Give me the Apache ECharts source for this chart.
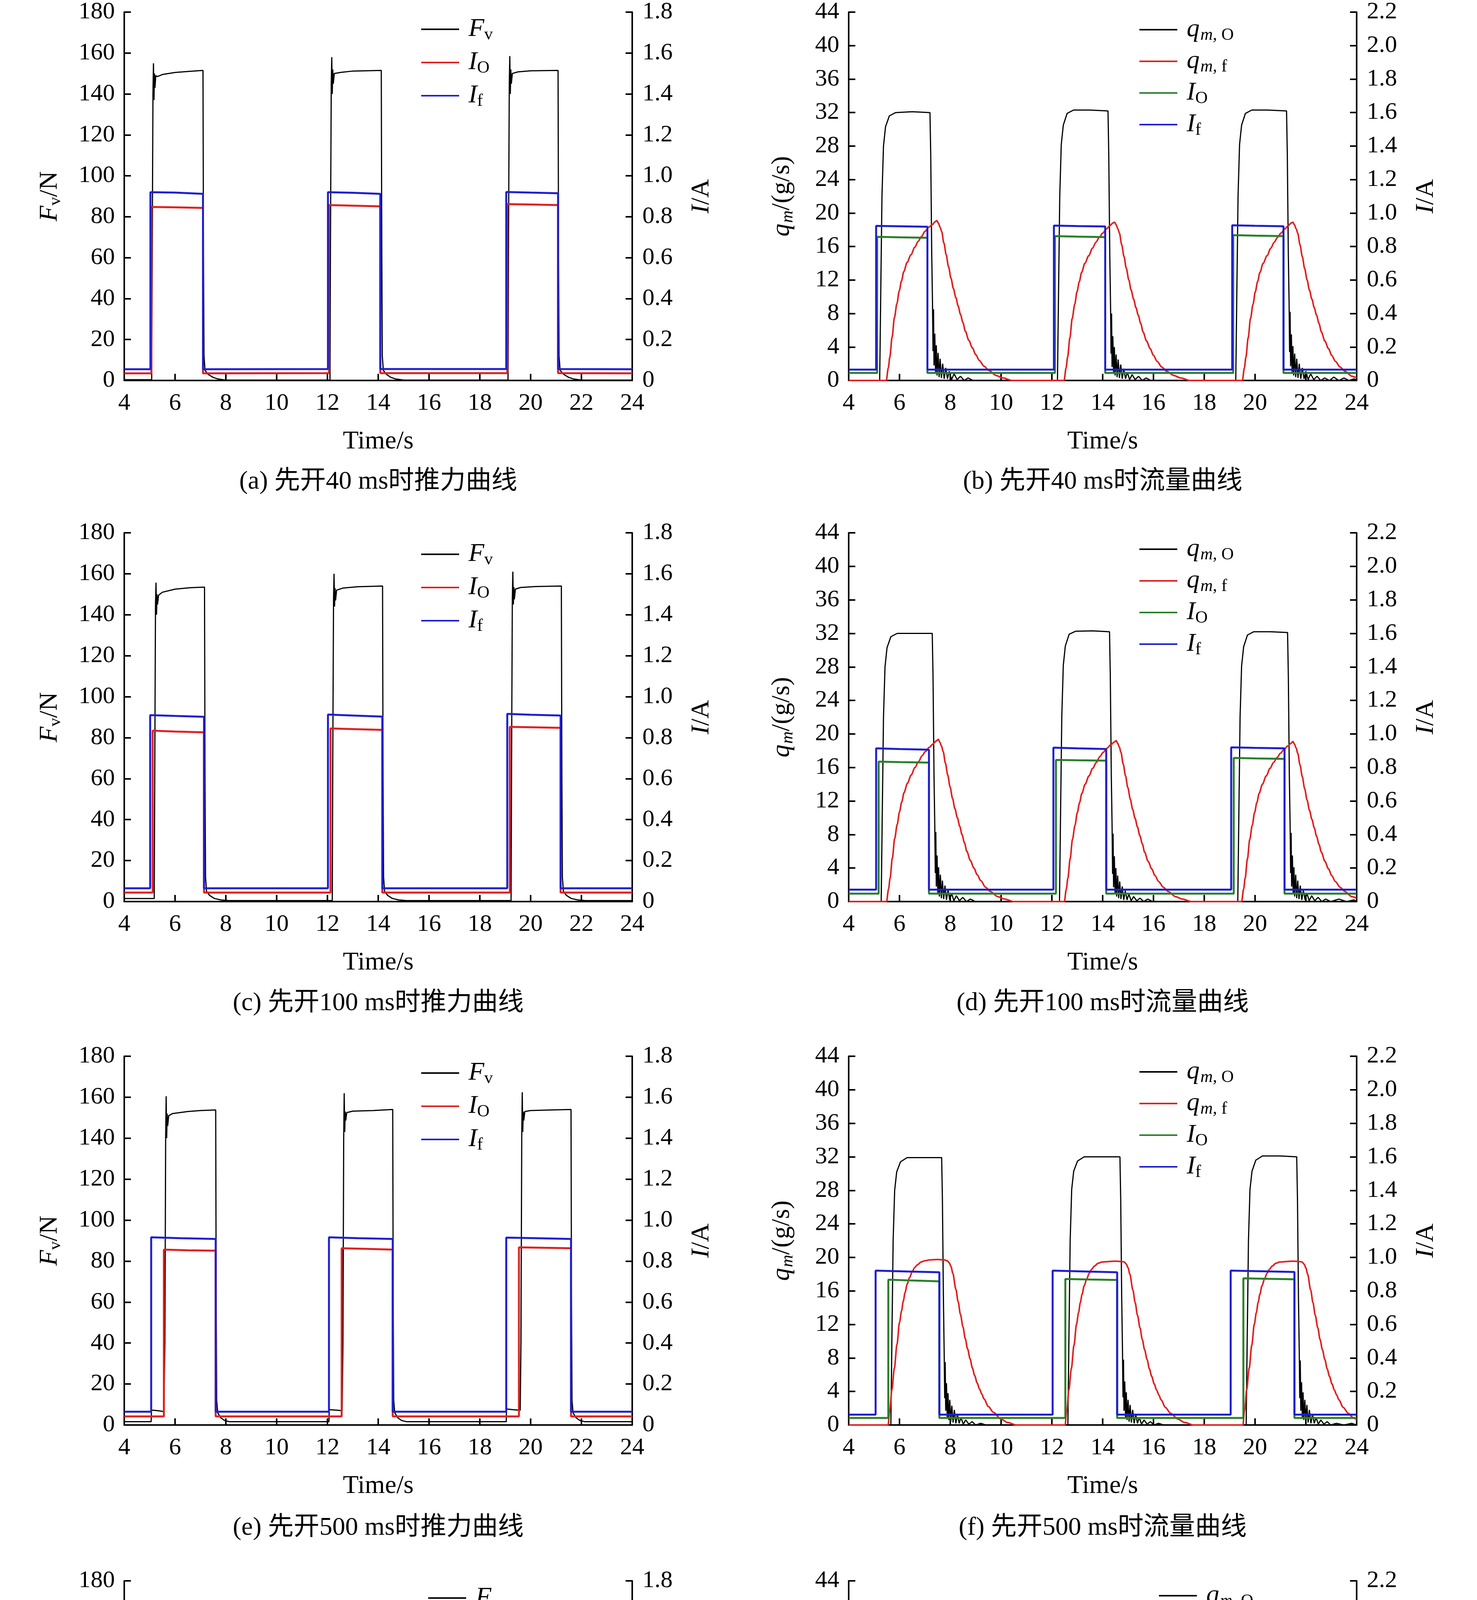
<!DOCTYPE html>
<html><head><meta charset="utf-8">
<script src="https://cdn.jsdelivr.net/npm/echarts@6/dist/echarts.min.js"></script>
<style>html,body{margin:0;padding:0;background:#fff}#c{width:3780px;height:5302px}</style>
</head><body><div id="c"></div>
<script>
// ---------------- DATA ----------------
const xTicks = [4, 6, 8, 10, 12, 14, 16, 18, 20, 22, 24];
const captions = ['(a) 先开40 ms时推力曲线', '(b) 先开40 ms时流量曲线', '(c) 先开100 ms时推力曲线', '(d) 先开100 ms时流量曲线',
  '(e) 先开500 ms时推力曲线', '(f) 先开500 ms时流量曲线', '(g) 先开1 000 ms时推力曲线', '(h) 先开1 000 ms时流量曲线'];
const forceRange = [0, 180, 20];
const flowRange = [0, 44, 4];
const curForceRange = [0, 1.8, 0.2];
const curFlowRange = [0, 2.2, 0.2];

// (a)
const a_Fv = [[4,0.4],[5.08,0.4],[5.10,60],[5.13,140],[5.15,155],[5.17,137],[5.19,150],[5.21,143],[5.24,149],[5.3,148.5],[5.5,149.5],[6,150.5],[6.5,151],[7.10,151.5],[7.12,60],[7.14,12],[7.18,5],[7.3,3],[7.5,1.5],[7.7,0.7],[8.0,0.2],[12.10,0.2],[12.12,70],[12.15,145],[12.17,158],[12.19,140],[12.21,152],[12.23,145],[12.27,150],[12.5,150.5],[13,151.2],[14.12,151.5],[14.14,60],[14.16,12],[14.2,5],[14.32,3],[14.5,1.5],[14.7,0.7],[15.0,0.2],[19.11,0.2],[19.13,70],[19.16,145],[19.18,158.5],[19.20,140],[19.22,152],[19.24,145],[19.28,150],[19.5,150.8],[20,151.3],[21.08,151.5],[21.10,60],[21.12,12],[21.16,5],[21.3,3],[21.5,1.5],[21.7,0.7],[22,0.2],[24,0.2]];
const a_IO = [[4,0.035],[5.07,0.035],[5.07,0.848],[6.0,0.846],[7.10,0.843],[7.10,0.035],[12.06,0.036],[12.06,0.857],[13.0,0.854],[14.08,0.851],[14.08,0.036],[19.08,0.036],[19.08,0.862],[20.0,0.860],[21.08,0.857],[21.08,0.036],[24,0.035]];
const a_If = [[4,0.055],[5.03,0.055],[5.03,0.92],[6.0,0.918],[7.10,0.912],[7.10,0.055],[12.02,0.056],[12.02,0.92],[13.0,0.917],[14.08,0.912],[14.08,0.056],[19.04,0.056],[19.04,0.921],[20.0,0.918],[21.08,0.915],[21.08,0.056],[24,0.055]];

// (b)
const b_qO = [[4,0],[5.22,0],[5.26,10],[5.31,22],[5.37,28],[5.45,30.3],[5.6,31.6],[5.85,32.0],[6.5,32.1],[7.20,32.0],[7.23,27],[7.27,15],[7.30,9.2],[7.32,3.5],[7.34,8.5],[7.36,1.8],[7.39,5.6],[7.42,1.0],[7.45,4.2],[7.48,0.6],[7.52,3.3],[7.56,0.4],[7.60,2.6],[7.65,0.3],[7.70,2.0],[7.76,0.2],[7.82,1.5],[7.89,0.2],[7.96,1.1],[8.05,0.1],[8.15,0.8],[8.27,0.1],[8.4,0.5],[8.55,0],[8.7,0.3],[8.9,0],
  [12.22,0],[12.26,10],[12.31,22],[12.37,28.2],[12.45,30.5],[12.6,31.9],[12.85,32.3],[13.5,32.3],[14.21,32.2],[14.24,27],[14.28,15],[14.31,9],[14.33,3.2],[14.35,8],[14.37,1.6],[14.40,5.3],[14.43,0.9],[14.46,4.0],[14.49,0.6],[14.53,3.1],[14.57,0.4],[14.61,2.5],[14.66,0.3],[14.71,1.9],[14.77,0.2],[14.83,1.4],[14.90,0.2],[14.97,1.0],[15.06,0.1],[15.16,0.7],[15.28,0.1],[15.41,0.5],[15.56,0],[15.71,0.3],[15.9,0],
  [19.24,0],[19.28,10],[19.33,22],[19.39,28.2],[19.47,30.5],[19.62,31.9],[19.87,32.3],[20.5,32.3],[21.24,32.2],[21.27,27],[21.31,15],[21.34,9.3],[21.36,3.4],[21.38,8.2],[21.40,1.7],[21.43,5.5],[21.46,1.0],[21.49,4.1],[21.52,0.6],[21.56,3.2],[21.60,0.4],[21.64,2.6],[21.69,0.3],[21.74,2.0],[21.80,0.2],[21.86,1.5],[21.93,0.2],[22.0,1.1],[22.09,0.1],[22.19,0.8],[22.31,0.1],[22.44,0.5],[22.59,0],[22.74,0.3],[22.93,0],[23.1,0.4],[23.3,0],[23.5,0.3],[23.7,0],[23.9,0.2],[24,0]];
const b_qf = [[4,0],[5.48,0],[5.56,1.5],[5.62,2.8],[5.71,5.2],[5.80,7.5],[5.90,9.2],[5.99,10.7],[6.08,11.9],[6.17,13.0],[6.30,14.1],[6.45,15.0],[6.60,15.9],[6.73,16.6],[6.87,17.2],[7.0,17.8],[7.15,18.3],[7.29,18.6],[7.40,18.95],[7.47,19.1],[7.53,18.8],[7.60,18.3],[7.66,17.8],[7.75,16.4],[7.84,15.0],[7.93,13.6],[8.03,12.2],[8.12,11.0],[8.22,9.9],[8.31,8.9],[8.40,7.9],[8.50,6.9],[8.59,5.9],[8.73,4.8],[8.87,3.9],[9.0,3.1],[9.14,2.4],[9.33,1.7],[9.52,1.2],[9.8,0.6],[10.07,0.3],[10.44,0],
  [12.48,0],[12.56,1.5],[12.62,2.8],[12.71,5.1],[12.80,7.4],[12.90,9.1],[12.99,10.6],[13.08,11.8],[13.17,12.9],[13.30,14.0],[13.45,14.9],[13.60,15.8],[13.73,16.5],[13.87,17.1],[14.0,17.6],[14.15,18.1],[14.29,18.5],[14.40,18.8],[14.47,18.9],[14.53,18.6],[14.60,18.1],[14.66,17.6],[14.75,16.2],[14.84,14.8],[14.93,13.4],[15.03,12.0],[15.12,10.8],[15.22,9.7],[15.31,8.7],[15.40,7.8],[15.50,6.8],[15.59,5.8],[15.73,4.7],[15.87,3.8],[16.0,3.0],[16.14,2.3],[16.33,1.6],[16.52,1.1],[16.8,0.6],[17.07,0.3],[17.44,0],
  [19.50,0],[19.58,1.5],[19.64,2.8],[19.73,5.1],[19.82,7.4],[19.92,9.1],[20.01,10.6],[20.10,11.8],[20.19,12.9],[20.32,14.0],[20.47,14.9],[20.62,15.8],[20.75,16.5],[20.89,17.1],[21.02,17.6],[21.17,18.1],[21.31,18.5],[21.42,18.8],[21.49,18.9],[21.55,18.6],[21.62,18.1],[21.68,17.6],[21.77,16.2],[21.86,14.8],[21.95,13.4],[22.05,12.0],[22.14,10.8],[22.24,9.7],[22.33,8.7],[22.42,7.8],[22.52,6.8],[22.61,5.8],[22.75,4.7],[22.89,3.8],[23.02,3.0],[23.16,2.3],[23.35,1.6],[23.54,1.1],[23.82,0.5],[24,0.3]];
const b_IO = [[4,0.045],[5.12,0.045],[5.12,0.858],[6.0,0.855],[7.10,0.852],[7.10,0.045],[12.12,0.045],[12.12,0.862],[13.0,0.859],[14.10,0.856],[14.10,0.045],[19.14,0.045],[19.14,0.868],[20.0,0.865],[21.12,0.862],[21.12,0.045],[24,0.045]];
const b_If = [[4,0.065],[5.08,0.065],[5.08,0.923],[6.0,0.921],[7.10,0.918],[7.10,0.065],[12.08,0.065],[12.08,0.925],[13.0,0.922],[14.10,0.920],[14.10,0.065],[19.10,0.065],[19.10,0.927],[20.0,0.924],[21.12,0.921],[21.12,0.065],[24,0.065]];

// (c)
const c_Fv = [[4,1.5],[5.18,1.5],[5.20,60],[5.23,145],[5.25,155.7],[5.27,140],[5.29,150],[5.31,145],[5.35,149.5],[5.5,151],[6,152.5],[6.6,153.2],[7.16,153.5],[7.18,60],[7.20,12],[7.24,5],[7.36,3],[7.55,1.5],[7.8,0.8],[8.1,0.5],[12.19,0.5],[12.21,70],[12.24,148],[12.26,160],[12.28,144],[12.30,153],[12.32,147],[12.36,152],[12.6,153],[13.2,153.7],[14.17,154],[14.19,60],[14.21,12],[14.25,5],[14.37,3],[14.56,1.5],[14.8,0.8],[15.1,0.5],[19.23,0.5],[19.25,70],[19.28,148],[19.30,161],[19.32,145],[19.34,153.5],[19.36,147.5],[19.40,152.5],[19.6,153.3],[20.2,153.8],[21.21,154],[21.23,60],[21.25,12],[21.29,5],[21.41,3],[21.6,1.5],[21.85,0.8],[22.15,0.5],[24,0.5]];
const c_IO = [[4,0.044],[5.12,0.044],[5.12,0.834],[6.0,0.830],[7.14,0.826],[7.14,0.044],[12.12,0.044],[12.12,0.845],[13.0,0.842],[14.16,0.838],[14.16,0.044],[19.18,0.044],[19.18,0.853],[20.0,0.851],[21.18,0.848],[21.18,0.044],[24,0.044]];
const c_If = [[4,0.065],[5.02,0.065],[5.02,0.910],[6.0,0.906],[7.14,0.902],[7.14,0.065],[12.02,0.065],[12.02,0.913],[13.0,0.908],[14.16,0.903],[14.16,0.065],[19.08,0.065],[19.08,0.916],[20.0,0.912],[21.18,0.908],[21.18,0.065],[24,0.065]];

// (d)
const d_qO = [[4,0],[5.28,0],[5.32,10],[5.37,22],[5.43,28],[5.51,30.3],[5.66,31.6],[5.91,32.0],[6.6,32.0],[7.29,32.0],[7.32,27],[7.36,15],[7.39,9.0],[7.41,3.4],[7.43,8.3],[7.45,1.8],[7.48,5.5],[7.51,1.0],[7.54,4.1],[7.57,0.6],[7.61,3.2],[7.65,0.4],[7.69,2.5],[7.74,0.3],[7.79,1.9],[7.85,0.2],[7.91,1.4],[7.98,0.2],[8.05,1.0],[8.14,0.1],[8.24,0.7],[8.36,0.1],[8.49,0.5],[8.64,0],[8.79,0.3],[8.99,0],
  [12.30,0],[12.34,10],[12.39,22],[12.45,28.2],[12.53,30.5],[12.68,31.9],[12.93,32.25],[13.6,32.3],[14.27,32.2],[14.30,27],[14.34,15],[14.37,9.2],[14.39,3.3],[14.41,8.1],[14.43,1.7],[14.46,5.4],[14.49,0.9],[14.52,4.0],[14.55,0.6],[14.59,3.1],[14.63,0.4],[14.67,2.4],[14.72,0.3],[14.77,1.8],[14.83,0.2],[14.89,1.3],[14.96,0.2],[15.03,0.9],[15.12,0.1],[15.22,0.6],[15.34,0.1],[15.47,0.4],[15.62,0],[15.77,0.3],[15.97,0],
  [19.32,0],[19.36,10],[19.41,22],[19.47,28.1],[19.55,30.4],[19.70,31.8],[19.95,32.2],[20.6,32.2],[21.28,32.1],[21.31,27],[21.35,15],[21.38,9.1],[21.40,3.4],[21.42,8.2],[21.44,1.8],[21.47,5.5],[21.50,1.0],[21.53,4.1],[21.56,0.6],[21.60,3.2],[21.64,0.4],[21.68,2.5],[21.73,0.3],[21.78,1.9],[21.84,0.2],[21.90,1.4],[21.97,0.2],[22.04,1.0],[22.13,0.1],[22.23,0.7],[22.35,0.1],[22.48,0.5],[22.63,0],[22.78,0.3],[22.98,0],[23.3,0.3],[23.6,0],[23.9,0.2],[24,0]];
const d_qf = [[4,0],[5.49,0],[5.57,1.5],[5.63,2.8],[5.72,5.2],[5.81,7.5],[5.91,9.2],[6.0,10.7],[6.09,11.9],[6.18,13.0],[6.31,14.1],[6.46,15.1],[6.61,16.0],[6.75,16.7],[6.89,17.4],[7.02,17.9],[7.17,18.4],[7.32,18.8],[7.44,19.15],[7.53,19.35],[7.59,19.0],[7.66,18.5],[7.72,17.9],[7.81,16.5],[7.90,15.1],[7.99,13.7],[8.09,12.3],[8.18,11.1],[8.28,10.0],[8.37,9.0],[8.46,8.0],[8.56,7.0],[8.65,6.0],[8.79,4.9],[8.93,4.0],[9.06,3.2],[9.2,2.5],[9.39,1.7],[9.58,1.2],[9.86,0.6],[10.13,0.3],[10.5,0],
  [12.49,0],[12.57,1.5],[12.63,2.8],[12.72,5.1],[12.81,7.4],[12.91,9.1],[13.0,10.6],[13.09,11.8],[13.18,12.9],[13.31,14.0],[13.46,15.0],[13.61,15.9],[13.75,16.6],[13.89,17.3],[14.02,17.8],[14.17,18.3],[14.32,18.7],[14.44,19.0],[14.53,19.2],[14.59,18.9],[14.66,18.4],[14.72,17.8],[14.81,16.4],[14.90,15.0],[14.99,13.6],[15.09,12.2],[15.18,11.0],[15.28,9.9],[15.37,8.9],[15.46,7.9],[15.56,6.9],[15.65,5.9],[15.79,4.8],[15.93,3.9],[16.06,3.1],[16.2,2.4],[16.39,1.7],[16.58,1.2],[16.86,0.6],[17.13,0.3],[17.5,0],
  [19.47,0],[19.55,1.5],[19.61,2.8],[19.70,5.1],[19.79,7.4],[19.89,9.1],[19.98,10.6],[20.07,11.8],[20.16,12.9],[20.29,14.0],[20.44,15.0],[20.59,15.9],[20.73,16.6],[20.87,17.2],[21.0,17.7],[21.15,18.2],[21.30,18.6],[21.42,18.9],[21.49,19.1],[21.55,18.8],[21.62,18.3],[21.68,17.7],[21.77,16.3],[21.86,14.9],[21.95,13.5],[22.05,12.1],[22.14,10.9],[22.24,9.8],[22.33,8.8],[22.42,7.8],[22.52,6.8],[22.61,5.9],[22.75,4.8],[22.89,3.9],[23.02,3.1],[23.16,2.4],[23.35,1.7],[23.54,1.2],[23.8,0.6],[24,0.4]];
const d_IO = [[4,0.047],[5.18,0.047],[5.18,0.835],[6.0,0.832],[7.16,0.829],[7.16,0.047],[12.16,0.047],[12.16,0.845],[13.0,0.843],[14.14,0.841],[14.14,0.047],[19.16,0.047],[19.16,0.857],[20.0,0.854],[21.16,0.851],[21.16,0.047],[24,0.047]];
const d_If = [[4,0.071],[5.08,0.071],[5.08,0.914],[6.0,0.910],[7.16,0.906],[7.16,0.071],[12.06,0.071],[12.06,0.918],[13.0,0.914],[14.14,0.910],[14.14,0.071],[19.06,0.071],[19.06,0.920],[20.0,0.917],[21.16,0.914],[21.16,0.071],[24,0.071]];

// (e)
const e_Fv = [[4,1.6],[5.06,1.6],[5.07,7.3],[5.3,7.0],[5.56,6.6],[5.60,40],[5.63,140],[5.65,160.5],[5.67,140],[5.69,152],[5.71,146],[5.75,151],[5.9,152],[6.5,153],[7.0,153.5],[7.60,153.8],[7.62,60],[7.64,12],[7.68,6],[7.8,3.5],[7.95,2.2],[8.15,1.6],[12.06,1.6],[12.07,7.5],[12.3,7.3],[12.58,7.0],[12.61,40],[12.64,140],[12.66,162],[12.68,143],[12.70,153],[12.72,148.6],[12.76,152.5],[13,153.2],[13.8,153.5],[14.57,154],[14.59,60],[14.61,12],[14.65,6],[14.77,3.5],[14.92,2.2],[15.12,1.6],[19.04,1.6],[19.05,7.8],[19.3,7.5],[19.59,7.2],[19.62,40],[19.65,140],[19.67,162.4],[19.69,143],[19.71,153],[19.73,148.6],[19.77,153],[20,153.5],[20.8,153.8],[21.59,154],[21.61,60],[21.63,12],[21.67,6],[21.79,3.5],[21.94,2.2],[22.14,1.6],[24,1.6]];
const e_IO = [[4,0.042],[5.56,0.042],[5.56,0.856],[6.5,0.853],[7.60,0.851],[7.60,0.042],[12.56,0.042],[12.56,0.863],[13.5,0.860],[14.57,0.856],[14.57,0.042],[19.54,0.042],[19.54,0.867],[20.5,0.865],[21.59,0.863],[21.59,0.042],[24,0.042]];
const e_If = [[4,0.065],[5.06,0.065],[5.06,0.916],[6.2,0.912],[7.60,0.908],[7.60,0.065],[12.06,0.065],[12.06,0.916],[13.2,0.912],[14.57,0.908],[14.57,0.065],[19.04,0.065],[19.04,0.915],[20.2,0.912],[21.59,0.908],[21.59,0.065],[24,0.065]];

// (f)
const f_qO = [[4,0],[5.66,0],[5.70,10],[5.75,22],[5.81,28],[5.89,30.2],[6.04,31.4],[6.3,31.9],[7.0,31.9],[7.66,31.9],[7.69,27],[7.73,15],[7.76,8.5],[7.78,3.2],[7.80,7.5],[7.82,1.7],[7.85,5.0],[7.88,0.9],[7.91,3.8],[7.94,0.6],[7.98,3.0],[8.02,0.4],[8.06,2.3],[8.11,0.3],[8.16,1.8],[8.22,0.2],[8.28,1.3],[8.35,0.2],[8.42,0.9],[8.51,0.1],[8.61,0.6],[8.73,0.1],[8.86,0.4],[9.0,0],[9.2,0.2],[9.4,0],
  [12.63,0],[12.67,10],[12.72,22],[12.78,28.1],[12.86,30.3],[13.01,31.5],[13.27,32.0],[14.0,32.0],[14.68,32.0],[14.71,27],[14.75,15],[14.78,9.0],[14.80,3.3],[14.82,7.8],[14.84,1.7],[14.87,5.2],[14.90,0.9],[14.93,3.9],[14.96,0.6],[15.0,3.0],[15.04,0.4],[15.08,2.4],[15.13,0.3],[15.18,1.8],[15.24,0.2],[15.30,1.3],[15.37,0.2],[15.44,0.9],[15.53,0.1],[15.63,0.6],[15.75,0.1],[15.88,0.4],[16.02,0],[16.2,0.2],[16.4,0],
  [19.65,0],[19.69,10],[19.74,22],[19.80,28.1],[19.88,30.3],[20.03,31.6],[20.29,32.1],[21.0,32.1],[21.64,32.0],[21.67,27],[21.71,15],[21.74,8.8],[21.76,3.2],[21.78,7.7],[21.80,1.7],[21.83,5.1],[21.86,0.9],[21.89,3.9],[21.92,0.6],[21.96,3.0],[22.0,0.4],[22.04,2.4],[22.09,0.3],[22.14,1.8],[22.20,0.2],[22.26,1.3],[22.33,0.2],[22.40,0.9],[22.49,0.1],[22.59,0.6],[22.71,0.1],[22.84,0.4],[22.98,0],[23.2,0.2],[23.5,0],[23.8,0.2],[24,0]];
const f_qf = [[4,0],[5.55,0],[5.62,1.8],[5.70,4.2],[5.80,6.8],[5.90,9.6],[6.0,12.2],[6.08,13.6],[6.15,14.8],[6.22,15.8],[6.30,16.8],[6.40,17.6],[6.50,18.3],[6.60,18.8],[6.70,19.1],[6.85,19.45],[7.0,19.6],[7.2,19.7],[7.5,19.75],[7.75,19.7],[7.88,19.6],[7.96,19.35],[8.03,18.9],[8.1,18.1],[8.22,16.2],[8.31,14.7],[8.4,13.2],[8.5,11.7],[8.59,10.3],[8.68,9.1],[8.78,7.9],[8.87,6.8],[8.96,5.9],[9.06,5.0],[9.15,4.3],[9.24,3.7],[9.33,3.1],[9.5,2.2],[9.7,1.5],[10.0,0.7],[10.26,0.3],[10.6,0],
  [12.52,0],[12.59,1.8],[12.67,4.2],[12.77,6.8],[12.87,9.5],[12.97,12.0],[13.05,13.4],[13.12,14.6],[13.19,15.6],[13.27,16.6],[13.37,17.4],[13.47,18.1],[13.57,18.6],[13.67,18.95],[13.82,19.3],[13.97,19.45],[14.2,19.5],[14.5,19.55],[14.75,19.5],[14.85,19.45],[14.93,19.2],[15.0,18.75],[15.07,18.0],[15.19,16.1],[15.28,14.6],[15.37,13.1],[15.47,11.6],[15.56,10.2],[15.65,9.0],[15.75,7.8],[15.84,6.7],[15.93,5.8],[16.03,4.9],[16.12,4.2],[16.21,3.6],[16.3,3.0],[16.47,2.1],[16.67,1.4],[16.97,0.7],[17.23,0.3],[17.57,0],
  [19.52,0],[19.59,1.8],[19.67,4.2],[19.77,6.8],[19.87,9.5],[19.97,12.0],[20.05,13.4],[20.12,14.6],[20.19,15.6],[20.27,16.6],[20.37,17.4],[20.47,18.1],[20.57,18.6],[20.67,18.95],[20.82,19.3],[20.97,19.45],[21.2,19.5],[21.5,19.55],[21.75,19.5],[21.85,19.45],[21.93,19.2],[22.0,18.75],[22.07,18.0],[22.19,16.1],[22.28,14.6],[22.37,13.1],[22.47,11.6],[22.56,10.2],[22.65,9.0],[22.75,7.8],[22.84,6.7],[22.93,5.8],[23.03,4.9],[23.12,4.2],[23.21,3.6],[23.3,3.0],[23.47,2.1],[23.67,1.4],[23.85,0.9],[24,0.6]];
const f_IO = [[4,0.042],[5.56,0.042],[5.56,0.867],[6.5,0.862],[7.57,0.857],[7.57,0.042],[12.53,0.042],[12.53,0.871],[13.5,0.868],[14.57,0.865],[14.57,0.042],[19.54,0.042],[19.54,0.875],[20.5,0.872],[21.55,0.869],[21.55,0.042],[24,0.042]];
const f_If = [[4,0.062],[5.06,0.062],[5.06,0.921],[6.3,0.916],[7.57,0.911],[7.57,0.062],[12.03,0.062],[12.03,0.921],[13.3,0.916],[14.57,0.911],[14.57,0.062],[19.04,0.062],[19.04,0.921],[20.3,0.917],[21.55,0.913],[21.55,0.062],[24,0.062]];

// (g)
const g_Fv = [[4,1.3],[5.06,1.3],[5.08,7.2],[5.3,7.0],[5.7,6.5],[6.1,6.0],[6.13,40],[6.16,140],[6.18,164],[6.20,146],[6.22,152],[6.24,147],[6.28,150],[6.5,150.8],[7,151.4],[7.6,151.9],[8.12,152.2],[8.14,60],[8.16,12],[8.2,6],[8.32,3.3],[8.47,2],[8.65,1.3],[12.08,1.3],[12.10,8.1],[12.4,7.7],[12.8,7.2],[13.12,6.8],[13.15,40],[13.18,140],[13.20,164],[13.22,147],[13.24,153],[13.26,148],[13.30,151],[13.6,152],[14.3,152.7],[15.09,153],[15.11,60],[15.13,12],[15.17,6],[15.29,3.3],[15.44,2],[15.62,1.3],[19.08,1.3],[19.10,8.1],[19.4,7.7],[19.8,7.2],[20.13,6.8],[20.16,40],[20.19,140],[20.21,164],[20.23,146.6],[20.25,153],[20.27,148],[20.31,151.5],[20.6,152.3],[21.3,152.9],[22.10,153.3],[22.12,60],[22.14,12],[22.18,6],[22.3,3.3],[22.45,2],[22.63,1.3],[24,1.3]];
const g_IO = [[4,0.043],[6.08,0.043],[6.08,0.828],[7.0,0.825],[8.12,0.821],[8.12,0.043],[13.10,0.043],[13.10,0.834],[14.0,0.833],[15.09,0.831],[15.09,0.043],[20.10,0.043],[20.10,0.847],[21.0,0.844],[22.10,0.840],[22.10,0.043],[24,0.043]];
const g_If = [[4,0.064],[5.06,0.064],[5.06,0.866],[6.5,0.863],[8.12,0.860],[8.12,0.064],[12.08,0.064],[12.08,0.875],[13.5,0.872],[15.09,0.869],[15.09,0.064],[19.08,0.064],[19.08,0.883],[20.5,0.881],[22.10,0.879],[22.10,0.064],[24,0.064]];

// (h)
const h_qO = [[4,0],[6.16,0],[6.20,10],[6.25,22],[6.31,28],[6.39,30.2],[6.54,31.5],[6.8,31.85],[7.5,31.8],[8.18,31.85],[8.21,27],[8.25,15],[8.28,6],[8.30,2.0],[8.32,4.0],[8.35,1.2],[8.38,2.8],[8.42,0.6],[8.46,2.0],[8.51,0.4],[8.56,1.5],[8.62,0.3],[8.69,1.0],[8.77,0.2],[8.86,0.6],[8.96,0.1],[9.1,0.3],[9.3,0],
  [13.17,0],[13.21,10],[13.26,22],[13.32,28.1],[13.40,30.3],[13.55,31.6],[13.81,32.0],[14.5,32.0],[15.14,32.0],[15.17,27],[15.21,15],[15.24,8],[15.26,2.5],[15.28,4.5],[15.31,1.3],[15.34,3.0],[15.38,0.7],[15.42,2.1],[15.47,0.4],[15.52,1.6],[15.58,0.3],[15.65,1.0],[15.73,0.2],[15.82,0.6],[15.92,0.1],[16.06,0.3],[16.26,0],
  [20.19,0],[20.23,10],[20.28,22],[20.34,28.1],[20.42,30.3],[20.57,31.6],[20.83,32.0],[21.5,32.0],[22.14,32.0],[22.17,27],[22.21,15],[22.24,7],[22.26,2.2],[22.28,4.2],[22.31,1.2],[22.34,2.9],[22.38,0.7],[22.42,2.0],[22.47,0.4],[22.52,1.5],[22.58,0.3],[22.65,1.0],[22.73,0.2],[22.82,0.6],[22.92,0.1],[23.06,0.3],[23.26,0],[23.6,0.2],[24,0]];
const h_qf = [[4,0],[5.43,0],[5.52,1.6],[5.6,3.5],[5.7,5.5],[5.8,7.5],[5.9,9.5],[5.99,11.4],[6.06,13.2],[6.13,15.0],[6.2,16.8],[6.27,18.4],[6.34,19.6],[6.4,20.6],[6.47,21.5],[6.54,22.3],[6.6,22.8],[6.66,23.15],[6.73,23.3],[6.79,23.2],[6.87,22.9],[6.95,22.5],[7.05,22.1],[7.2,21.5],[7.35,20.9],[7.47,20.5],[7.6,20.2],[7.75,20.0],[7.9,19.9],[8.1,19.8],[8.3,19.7],[8.42,19.55],[8.5,19.2],[8.57,18.5],[8.65,17.4],[8.72,16.3],[8.8,15.1],[8.88,13.9],[8.97,12.6],[9.05,11.5],[9.14,10.3],[9.23,9.2],[9.32,8.2],[9.42,7.2],[9.51,6.3],[9.6,5.6],[9.7,4.9],[9.8,4.2],[9.89,3.6],[10.0,3.0],[10.12,2.4],[10.25,1.8],[10.38,1.3],[10.55,0.8],[10.72,0.4],[10.9,0.1],[11.1,0],
  [12.41,0],[12.50,1.6],[12.58,3.5],[12.68,5.5],[12.78,7.5],[12.88,9.5],[12.97,11.4],[13.04,13.2],[13.11,15.0],[13.18,16.7],[13.25,18.3],[13.32,19.5],[13.38,20.5],[13.45,21.4],[13.52,22.2],[13.58,22.7],[13.64,23.05],[13.70,23.2],[13.76,23.1],[13.84,22.8],[13.92,22.4],[14.02,22.0],[14.17,21.4],[14.32,20.8],[14.44,20.4],[14.57,20.1],[14.72,19.9],[14.87,19.8],[15.07,19.7],[15.27,19.6],[15.39,19.45],[15.47,19.1],[15.54,18.4],[15.62,17.3],[15.69,16.2],[15.77,15.0],[15.85,13.8],[15.94,12.5],[16.02,11.4],[16.11,10.2],[16.2,9.1],[16.29,8.1],[16.39,7.1],[16.48,6.2],[16.57,5.5],[16.67,4.8],[16.77,4.1],[16.86,3.5],[16.97,2.9],[17.09,2.3],[17.22,1.7],[17.35,1.2],[17.52,0.7],[17.69,0.3],[17.87,0.1],[18.07,0],
  [19.40,0],[19.49,1.6],[19.57,3.5],[19.67,5.5],[19.77,7.5],[19.87,9.5],[19.96,11.4],[20.03,13.2],[20.10,15.0],[20.17,16.7],[20.24,18.3],[20.31,19.5],[20.37,20.5],[20.44,21.4],[20.51,22.2],[20.57,22.7],[20.63,23.05],[20.69,23.2],[20.75,23.1],[20.83,22.8],[20.91,22.4],[21.01,22.0],[21.16,21.4],[21.31,20.8],[21.43,20.4],[21.56,20.1],[21.71,19.9],[21.86,19.8],[22.03,19.7],[22.2,19.6],[22.3,19.45],[22.38,19.1],[22.45,18.4],[22.53,17.3],[22.6,16.2],[22.68,15.0],[22.76,13.8],[22.85,12.5],[22.93,11.4],[23.02,10.2],[23.11,9.1],[23.2,8.1],[23.3,7.0],[23.39,6.0],[23.48,5.1],[23.58,4.2],[23.68,3.3],[23.77,2.6],[23.88,1.9],[24,1.3]];
const h_IO = [[4,0.035],[6.08,0.035],[6.08,0.825],[7.0,0.823],[8.03,0.821],[8.03,0.035],[13.08,0.035],[13.08,0.833],[14.0,0.831],[15.03,0.829],[15.03,0.035],[20.06,0.035],[20.06,0.841],[21.0,0.839],[22.03,0.837],[22.03,0.035],[24,0.035]];
const h_If = [[4,0.058],[5.06,0.058],[5.06,0.864],[6.5,0.862],[8.03,0.860],[8.03,0.058],[12.04,0.058],[12.04,0.870],[13.5,0.868],[15.03,0.866],[15.03,0.058],[19.02,0.058],[19.02,0.880],[20.5,0.877],[22.03,0.874],[22.03,0.058],[24,0.058]];

// ---------------- LAYOUT / STYLE ----------------
const SERIF = "'Liberation Serif','Times New Roman',serif";
const CAPFONT = "'Liberation Serif','Noto Sans CJK SC',serif";
const colX = [318, 2172], gridW = 1300;
const rowTop = [30, 1364, 2704, 4047], gridH = 944;
const BLACK = '#000000', RED = '#e02020', BLUE = '#1e1ed2', GREEN = '#2a7f2a';

const RICH = {
  it:   { fontFamily: SERIF, fontStyle: 'italic', fontSize: 66, lineHeight: 72, color: '#000' },
  itl:  { fontFamily: SERIF, fontStyle: 'italic', fontSize: 66, lineHeight: 72, color: '#000', padding: [0, 0, 0, 19] },
  n:    { fontFamily: SERIF, fontSize: 66, lineHeight: 72, color: '#000' },
  sub:  { fontFamily: SERIF, fontSize: 44, lineHeight: 44, color: '#000', padding: [28, 0, 0, 0] },
  subi: { fontFamily: SERIF, fontStyle: 'italic', fontSize: 44, lineHeight: 44, color: '#000', padding: [28, 0, 0, 2] }
};
const LEG = {
  Fv: '{itl|F}{sub|v}', IOr: '{itl|I}{sub|O}', If: '{itl|I}{sub|f}',
  qO: '{itl|q}{subi|m}{sub|, O}', qf: '{itl|q}{subi|m}{sub|, f}', IOg: '{itl|I}{sub|O}'
};

const panels = [
  { kind: 'F', s: [['Fv', a_Fv], ['IOr', a_IO], ['If', a_If]], leg: [1078, 75, 85] },
  { kind: 'Q', s: [['qO', b_qO], ['qf', b_qf], ['IOg', b_IO], ['If', b_If]], leg: [2916, 76, 81] },
  { kind: 'F', s: [['Fv', c_Fv], ['IOr', c_IO], ['If', c_If]], leg: [1078, 1419, 85] },
  { kind: 'Q', s: [['qO', d_qO], ['qf', d_qf], ['IOg', d_IO], ['If', d_If]], leg: [2916, 1406, 81] },
  { kind: 'F', s: [['Fv', e_Fv], ['IOr', e_IO], ['If', e_If]], leg: [1078, 2747, 85] },
  { kind: 'Q', s: [['qO', f_qO], ['qf', f_qf], ['IOg', f_IO], ['If', f_If]], leg: [2916, 2744, 81] },
  { kind: 'F', s: [['Fv', g_Fv], ['IOr', g_IO], ['If', g_If]], leg: [1096, 4091, 85] },
  { kind: 'Q', s: [['qO', h_qO], ['qf', h_qf], ['IOg', h_IO], ['If', h_If]], leg: [2966, 4085, 81] }
];
const STY = {
  Fv: { c: BLACK, w: 3, right: false }, IOr: { c: RED, w: 5, right: true }, If: { c: BLUE, w: 5, right: true },
  qO: { c: BLACK, w: 3, right: false }, qf: { c: RED, w: 4, right: false, smooth: true }, IOg: { c: GREEN, w: 5, right: true }
};

const axisLine = { show: true, onZero: false, lineStyle: { color: '#000', width: 4 } };
const axisTick = { show: true, inside: true, length: 17, lineStyle: { color: '#000', width: 4 } };
const lbl = { fontFamily: SERIF, fontSize: 62, color: '#000' };

const grid = [], xAxis = [], yAxis = [], series = [], legend = [], graphic = [];
panels.forEach((p, i) => {
  const row = Math.floor(i / 2), col = i % 2;
  const F = p.kind === 'F';
  const lr = F ? forceRange : flowRange;
  const rr = F ? curForceRange : curFlowRange;
  grid.push({ left: colX[col], top: rowTop[row], width: gridW, height: gridH, containLabel: false });
  xAxis.push({
    gridIndex: i, type: 'value', min: xTicks[0], max: xTicks[xTicks.length - 1], interval: xTicks[1] - xTicks[0],
    name: 'Time/s', nameLocation: 'middle', nameGap: 124,
    nameTextStyle: { fontFamily: SERIF, fontSize: 66, color: '#000' },
    axisLine, axisTick, splitLine: { show: false },
    axisLabel: Object.assign({ margin: 28, showMinLabel: true, showMaxLabel: true }, lbl)
  });
  yAxis.push({
    gridIndex: i, type: 'value', position: 'left', min: lr[0], max: lr[1], interval: lr[2],
    name: F ? '{it|F}{sub|v}{n|/N}' : '{it|q}{subi|m}{n|/(g/s)}',
    nameLocation: 'middle', nameRotate: 90, nameGap: F ? 154 : 134,
    nameTextStyle: { rich: RICH, fontFamily: SERIF, fontSize: 66, color: '#000' },
    axisLine, axisTick, splitLine: { show: false },
    axisLabel: Object.assign({ margin: 24, showMinLabel: true, showMaxLabel: true }, lbl)
  });
  yAxis.push({
    gridIndex: i, type: 'value', position: 'right', min: rr[0], max: rr[1], interval: rr[2],
    name: '{it|I}{n|/A}', nameLocation: 'middle', nameRotate: 90, nameGap: 142,
    nameTextStyle: { rich: RICH, fontFamily: SERIF, fontSize: 66, color: '#000' },
    axisLine, axisTick, splitLine: { show: false },
    axisLabel: Object.assign({ margin: 26, showMinLabel: true, showMaxLabel: true,
      formatter: v => (Math.abs(v) < 1e-9 ? '0' : v.toFixed(1)) }, lbl)
  });
  p.s.forEach(([name, data]) => {
    const st = STY[name];
    series.push({
      type: 'line', name, data, xAxisIndex: i, yAxisIndex: 2 * i + (st.right ? 1 : 0),
      symbol: 'none', showSymbol: false, silent: true, animation: false,
      smooth: st.smooth ? 0.3 : false, smoothMonotone: st.smooth ? 'x' : undefined,
      lineStyle: { color: st.c, width: st.w }, itemStyle: { color: st.c }
    });
  });
  legend.push({
    orient: 'vertical', left: p.leg[0], top: p.leg[1] - 36, padding: 0,
    icon: 'rect', itemWidth: 97, itemHeight: 4, itemGap: p.leg[2] - 72, selectedMode: false,
    data: p.s.map(s => s[0]), formatter: n => LEG[n], textStyle: { rich: RICH, color: '#000' }
  });
  const capY = [1234, 2569, 3912, 5256][row];
  graphic.push({
    type: 'text', x: colX[col] + gridW / 2, y: capY, silent: true,
    style: { text: captions[i], font: '66px ' + CAPFONT, fill: '#000',
      align: 'center', verticalAlign: 'middle', textAlign: 'center', textVerticalAlign: 'middle' }
  });
});

const chart = echarts.init(document.getElementById('c'));
chart.setOption({
  backgroundColor: '#ffffff', animation: false,
  textStyle: { fontFamily: SERIF },
  grid, xAxis, yAxis, series, legend, graphic
});
</script>
</body></html>
